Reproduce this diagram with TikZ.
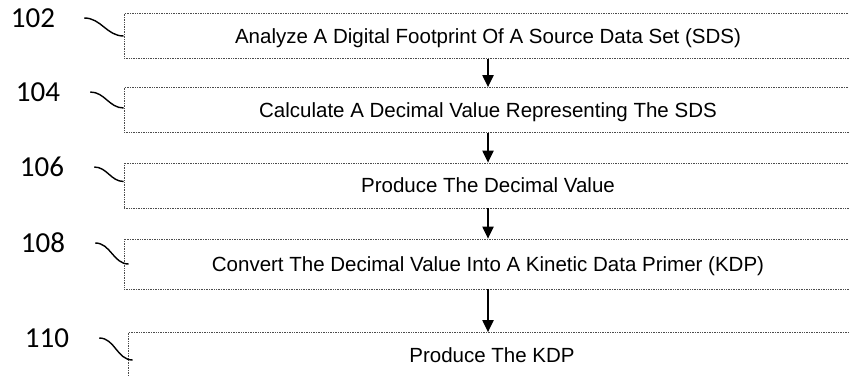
\documentclass[tikz,border=0pt]{standalone}
\usepackage{fontspec}
\setmainfont{Liberation Sans}
\newfontfamily\numfont{Carlito}
\usetikzlibrary{arrows.meta}

\tikzset{
	stepbox/.style={draw=black!70,densely dotted,line width=0.7pt,
		minimum width=728pt,minimum height=45pt,inner sep=0pt,
		text height=16pt,text depth=2pt,
		font=\fontsize{20.5}{24}\selectfont},
	reflabel/.style={inner sep=0pt,font=\numfont\fontsize{29}{32}\selectfont},
	leader/.style={line width=1.4pt,out=0,in=180},
	flow/.style={line width=2pt,-{Triangle[length=12pt,width=11pt]}}
}

\begin{document}
\begin{tikzpicture}[x=1pt,y=-1pt]
\clip (0,0) rectangle (849,375);

% steps
\node[stepbox] (b102) at (488,36) {Analyze A Digital Footprint Of A Source Data Set (SDS)};
\node[stepbox] (b104) at (488,110) {Calculate A Decimal Value Representing The SDS};
\node[stepbox] (b106) at (488,185.5) {Produce The Decimal Value};
\node[stepbox,minimum height=50pt] (b108) at (488,264) {Convert The Decimal Value Into A Kinetic Data Primer (KDP)};
\node[stepbox] (b110) at (492,355) {Produce The KDP};

% reference numerals
\node[reflabel] (l102) at (33,18) {102};
\node[reflabel] (l104) at (38,92) {104};
\node[reflabel] (l106) at (42,167) {106};
\node[reflabel] (l108) at (43,243) {108};
\node[reflabel] (l110) at (47,338) {110};

\draw[leader] ([xshift=29pt]l102.east) to (b102.west);
\draw[leader] ([xshift=30pt]l104.east) to ([yshift=2pt]b104.west);
\draw[leader] ([xshift=30pt]l106.east) to ([yshift=4pt]b106.west);
\draw[leader] ([xshift=30pt]l108.east) to ([xshift=5pt]b108.west);
\draw[leader] ([xshift=30pt]l110.east) to ([xshift=5pt,yshift=-5pt]b110.west);

% flow
\draw[flow] (b102.south) -- (b104.north);
\draw[flow] (b104.south) -- (b106.north);
\draw[flow] (b106.south) -- (b108.north);
\draw[flow] (b108.south) -- (b108.south |- b110.north);

\end{tikzpicture}
\end{document}
